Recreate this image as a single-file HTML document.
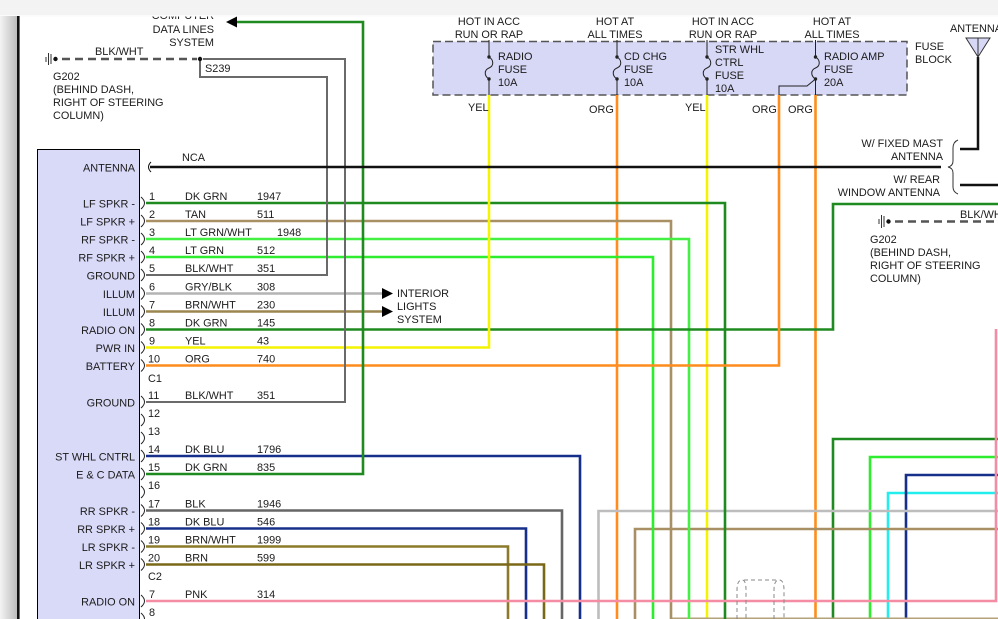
<!DOCTYPE html>
<html>
<head>
<meta charset="utf-8">
<style>
html,body{margin:0;padding:0;background:#fff;}
body{width:998px;height:619px;overflow:hidden;position:relative;}
svg{position:absolute;left:0;top:0;}
text{font-family:"Liberation Sans",Arial,sans-serif;font-size:10.9px;fill:#1c1c1c;}
</style>
</head>
<body>
<svg width="998" height="619" viewBox="0 0 998 619" xmlns="http://www.w3.org/2000/svg">
<defs>
<linearGradient id="lg" x1="0" y1="0" x2="1" y2="0">
<stop offset="0" stop-color="#f4f4f4"/>
<stop offset="1" stop-color="#bcbcbc"/>
</linearGradient>
</defs>
<rect x="0" y="0" width="998" height="619" fill="#fff"/>

<rect x="37.5" y="149.5" width="102" height="480" fill="#d9d9f8" stroke="#000" stroke-width="1"/>
<rect x="433" y="41.5" width="474" height="53.5" fill="#d7d7f6" stroke="#555" stroke-width="1.5" stroke-dasharray="8 4"/>

<g fill="none" stroke-linejoin="miter" stroke-linecap="butt">
<path d="M617,95 V619" stroke="#ff8c1c" stroke-width="2.6"/>
<path d="M707,95 V619" stroke="#f4f400" stroke-width="2.6"/>
<path d="M815.5,95 V619" stroke="#ff8c1c" stroke-width="2.6"/>
<path d="M998,439 H833 V619" stroke="#1f8a1f" stroke-width="2.6"/>
<path d="M998,457 H870 V619" stroke="#2eec2e" stroke-width="2.6"/>
<path d="M998,493 H888 V619" stroke="#22eeee" stroke-width="2.6"/>
<path d="M998,475 H906 V619" stroke="#16308a" stroke-width="2.6"/>
<path d="M998,511 H598.5 V619" stroke="#bdbdbd" stroke-width="2.6"/>
<path d="M998,529 H635 V619" stroke="#a89064" stroke-width="2.6"/>
<path d="M671,618.5 H998" stroke="#b4a27a" stroke-width="2"/>
<path d="M146,203 H725 V619" stroke="#1f8a1f" stroke-width="2.6"/>
<path d="M146,221 H671 V619" stroke="#a89064" stroke-width="2.6"/>
<path d="M146,239 H689 V619" stroke="#44f044" stroke-width="2.6"/>
<path d="M146,257 H653 V619" stroke="#2eec2e" stroke-width="2.6"/>
<path d="M146,275 H327 V77 H200 V59" stroke="#6a6a6a" stroke-width="2"/>
<path d="M146,293.5 H383" stroke="#b4b4b4" stroke-width="2.6"/>
<path d="M146,311.5 H383" stroke="#9c8650" stroke-width="2.6"/>
<path d="M146,329.5 H833 V204 H998" stroke="#1f8a1f" stroke-width="2.6"/>
<path d="M146,347.5 H489 V95" stroke="#f4f400" stroke-width="2.6"/>
<path d="M146,365.5 H779 V95" stroke="#ff8c1c" stroke-width="2.6"/>
<path d="M146,402 H345 V59 H203" stroke="#6a6a6a" stroke-width="2"/>
<path d="M146,456 H580 V619" stroke="#16308a" stroke-width="2.6"/>
<path d="M146,474 H363 V22 H236" stroke="#1f8a1f" stroke-width="2.6"/>
<path d="M146,510.5 H562 V619" stroke="#666" stroke-width="2.6"/>
<path d="M146,528.5 H526 V619" stroke="#16308a" stroke-width="2.6"/>
<path d="M146,546.5 H508 V619" stroke="#8a7a2a" stroke-width="2.6"/>
<path d="M146,564.5 H544 V619" stroke="#7a6818" stroke-width="2.6"/>
<path d="M146,601 H996 V329" stroke="#f48ca4" stroke-width="2.6"/>
<path d="M150,167 H941" stroke="#111" stroke-width="2.5"/>
<path d="M151,162 Q146,167 151,172" stroke="#111" stroke-width="1"/>
<path d="M960,149 H978 V57" stroke="#111" stroke-width="2.5"/>
<path d="M960,185 H998" stroke="#111" stroke-width="2.5"/>
<path d="M958,140 Q953,142 953,148 L953,161 Q953,166 948,167 Q953,168 953,173 L953,187 Q953,192 958,194" stroke="#333" stroke-width="1"/>
<g stroke="#222" stroke-width="1">
<path d="M489,40 V57 C494,60 494,66 489,68 C484,70 484,76 489,79 V95"/>
<path d="M617,40 V57 C622,60 622,66 617,68 C612,70 612,76 617,79 V95"/>
<path d="M707,40 V57 C712,60 712,66 707,68 C702,70 702,76 707,79 V95"/>
<path d="M815.5,40 V57 C820.5,60 820.5,66 815.5,68 C810.5,70 810.5,76 815.5,79 V95"/>
<path d="M779,95 V86 H807 L815.5,79"/>
</g>
<path d="M62,59 H197" stroke="#555" stroke-width="2.5" stroke-dasharray="8 5"/>
<path d="M895,221.5 H998" stroke="#555" stroke-width="2.5" stroke-dasharray="8 5"/>
<g stroke="#333" stroke-width="1">
<path d="M46,57 V62 M48.5,53 V65 M51,54 V64"/>
<path d="M879,219 V224 M881.5,215 V228 M884,216 V227"/>
</g>
<g stroke="#888" stroke-width="1" stroke-dasharray="4 3">
<path d="M737,619 V590 Q737,580 742,580 Q746,580 746,590 V619"/>
<path d="M774,619 V590 Q774,580 779,580 Q784,580 784,590 V619"/>
<path d="M744,580 H777"/>
</g>
<g stroke="#222" stroke-width="1">
<path d="M141,197 Q148,203 141,209"/>
<path d="M141,215 Q148,221 141,227"/>
<path d="M141,233 Q148,239 141,245"/>
<path d="M141,251 Q148,257 141,263"/>
<path d="M141,269 Q148,275 141,281"/>
<path d="M141,287.5 Q148,293.5 141,299.5"/>
<path d="M141,305.5 Q148,311.5 141,317.5"/>
<path d="M141,323.5 Q148,329.5 141,335.5"/>
<path d="M141,341.5 Q148,347.5 141,353.5"/>
<path d="M141,359.5 Q148,365.5 141,371.5"/>
<path d="M141,396 Q148,402 141,408"/>
<path d="M141,414 Q148,420 141,426"/>
<path d="M141,432 Q148,438 141,444"/>
<path d="M141,450 Q148,456 141,462"/>
<path d="M141,468 Q148,474 141,480"/>
<path d="M141,486 Q148,492 141,498"/>
<path d="M141,504.5 Q148,510.5 141,516.5"/>
<path d="M141,522.5 Q148,528.5 141,534.5"/>
<path d="M141,540.5 Q148,546.5 141,552.5"/>
<path d="M141,558.5 Q148,564.5 141,570.5"/>
<path d="M141,595 Q148,601 141,607"/>
<path d="M141,613 Q148,619 141,625"/>
</g>
</g>

<circle cx="200" cy="59" r="2.2" fill="#111"/>
<circle cx="55.5" cy="59" r="2.2" fill="#111"/>
<circle cx="888.5" cy="221.5" r="2.2" fill="#111"/>
<g fill="#222">
<circle cx="489" cy="57" r="1.7"/><circle cx="489" cy="79" r="1.7"/>
<circle cx="617" cy="57" r="1.7"/><circle cx="617" cy="79" r="1.7"/>
<circle cx="707" cy="57" r="1.7"/><circle cx="707" cy="79" r="1.7"/>
<circle cx="815.5" cy="57" r="1.7"/><circle cx="815.5" cy="79" r="1.7"/>
</g>
<polygon points="226,22 237,16.5 237,27.5" fill="#000"/>
<polygon points="393,293.5 382,288 382,299" fill="#000"/>
<polygon points="393,311.5 382,306 382,317" fill="#000"/>
<polygon points="966,38 990,38 978,57" fill="#d7d7f6" stroke="#333" stroke-width="1"/>
<path d="M978,38 V57" stroke="#333" stroke-width="1"/>

<g>
<text x="214" y="19" text-anchor="end">COMPUTER</text>
<text x="214" y="33" text-anchor="end">DATA LINES</text>
<text x="214" y="46" text-anchor="end">SYSTEM</text>
<text x="95" y="55">BLK/WHT</text>
<text x="205" y="72">S239</text>
<text x="53" y="80">G202</text>
<text x="53" y="93">(BEHIND DASH,</text>
<text x="53" y="106">RIGHT OF STEERING</text>
<text x="53" y="119">COLUMN)</text>

<text x="489" y="25" text-anchor="middle">HOT IN ACC</text>
<text x="489" y="38" text-anchor="middle">RUN OR RAP</text>
<text x="615" y="25" text-anchor="middle">HOT AT</text>
<text x="615" y="38" text-anchor="middle">ALL TIMES</text>
<text x="723" y="25" text-anchor="middle">HOT IN ACC</text>
<text x="723" y="38" text-anchor="middle">RUN OR RAP</text>
<text x="832" y="25" text-anchor="middle">HOT AT</text>
<text x="832" y="38" text-anchor="middle">ALL TIMES</text>

<text x="498" y="60">RADIO</text><text x="498" y="73">FUSE</text><text x="498" y="86">10A</text>
<text x="624" y="60">CD CHG</text><text x="624" y="73">FUSE</text><text x="624" y="86">10A</text>
<text x="715" y="53">STR WHL</text><text x="715" y="66">CTRL</text><text x="715" y="79">FUSE</text><text x="715" y="92">10A</text>
<text x="824" y="60">RADIO AMP</text><text x="824" y="73">FUSE</text><text x="824" y="86">20A</text>
<text x="915" y="50">FUSE</text><text x="915" y="63">BLOCK</text>

<text x="468" y="111">YEL</text>
<text x="589" y="113">ORG</text>
<text x="685" y="111">YEL</text>
<text x="752" y="113">ORG</text>
<text x="788" y="113">ORG</text>

<text x="950" y="32">ANTENNA</text>
<text x="943" y="147" text-anchor="end">W/ FIXED MAST</text>
<text x="943" y="160" text-anchor="end">ANTENNA</text>
<text x="940" y="183" text-anchor="end">W/ REAR</text>
<text x="940" y="196" text-anchor="end">WINDOW ANTENNA</text>

<text x="960" y="218">BLK/WHT</text>
<text x="870" y="243">G202</text>
<text x="870" y="256">(BEHIND DASH,</text>
<text x="870" y="269">RIGHT OF STEERING</text>
<text x="870" y="282">COLUMN)</text>

<text x="182" y="161">NCA</text>
<text x="397" y="297">INTERIOR</text>
<text x="397" y="310">LIGHTS</text>
<text x="397" y="323">SYSTEM</text>

<g text-anchor="end">
<text x="135" y="171.5">ANTENNA</text>
<text x="135" y="207.5">LF SPKR -</text>
<text x="135" y="225.5">LF SPKR +</text>
<text x="135" y="243.5">RF SPKR -</text>
<text x="135" y="261.5">RF SPKR +</text>
<text x="135" y="279.5">GROUND</text>
<text x="135" y="298">ILLUM</text>
<text x="135" y="316">ILLUM</text>
<text x="135" y="334">RADIO ON</text>
<text x="135" y="352">PWR IN</text>
<text x="135" y="370">BATTERY</text>
<text x="135" y="406.5">GROUND</text>
<text x="135" y="460.5">ST WHL CNTRL</text>
<text x="135" y="478.5">E &amp; C DATA</text>
<text x="135" y="515">RR SPKR -</text>
<text x="135" y="533">RR SPKR +</text>
<text x="135" y="551">LR SPKR -</text>
<text x="135" y="569">LR SPKR +</text>
<text x="135" y="605.5">RADIO ON</text>
</g>

<text x="149" y="200">1</text><text x="185" y="200">DK GRN</text><text x="257" y="200">1947</text>
<text x="149" y="218">2</text><text x="185" y="218">TAN</text><text x="257" y="218">511</text>
<text x="149" y="236">3</text><text x="185" y="236">LT GRN/WHT</text><text x="277" y="236">1948</text>
<text x="149" y="254">4</text><text x="185" y="254">LT GRN</text><text x="257" y="254">512</text>
<text x="149" y="272">5</text><text x="185" y="272">BLK/WHT</text><text x="257" y="272">351</text>
<text x="149" y="290.5">6</text><text x="185" y="290.5">GRY/BLK</text><text x="257" y="290.5">308</text>
<text x="149" y="308.5">7</text><text x="185" y="308.5">BRN/WHT</text><text x="257" y="308.5">230</text>
<text x="149" y="326.5">8</text><text x="185" y="326.5">DK GRN</text><text x="257" y="326.5">145</text>
<text x="149" y="344.5">9</text><text x="185" y="344.5">YEL</text><text x="257" y="344.5">43</text>
<text x="148" y="362.5">10</text><text x="185" y="362.5">ORG</text><text x="257" y="362.5">740</text>
<text x="148" y="382">C1</text>
<text x="148" y="399">11</text><text x="185" y="399">BLK/WHT</text><text x="257" y="399">351</text>
<text x="148" y="417">12</text>
<text x="148" y="435">13</text>
<text x="148" y="453">14</text><text x="185" y="453">DK BLU</text><text x="257" y="453">1796</text>
<text x="148" y="471">15</text><text x="185" y="471">DK GRN</text><text x="257" y="471">835</text>
<text x="148" y="489">16</text>
<text x="148" y="507.5">17</text><text x="185" y="507.5">BLK</text><text x="257" y="507.5">1946</text>
<text x="148" y="525.5">18</text><text x="185" y="525.5">DK BLU</text><text x="257" y="525.5">546</text>
<text x="148" y="543.5">19</text><text x="185" y="543.5">BRN/WHT</text><text x="257" y="543.5">1999</text>
<text x="148" y="561.5">20</text><text x="185" y="561.5">BRN</text><text x="257" y="561.5">599</text>
<text x="148" y="580">C2</text>
<text x="149" y="598">7</text><text x="185" y="598">PNK</text><text x="257" y="598">314</text>
<text x="149" y="616">8</text>
</g>

<rect x="0" y="0" width="998" height="15" fill="#f3f3f3"/>
<rect x="0" y="15" width="998" height="1.5" fill="#fafafa"/>
<rect x="0" y="16" width="17" height="603" fill="url(#lg)"/>
<rect x="17" y="16" width="2.6" height="603" fill="#111"/>
</svg>
</body>
</html>
